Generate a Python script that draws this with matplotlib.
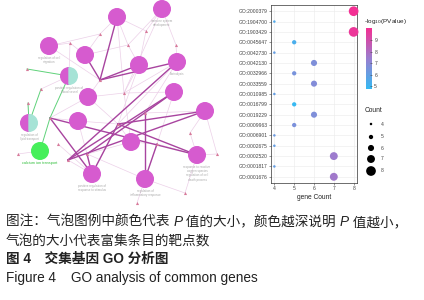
import numpy as np
import matplotlib
matplotlib.use("Agg")
import matplotlib.pyplot as plt
from matplotlib.patches import Circle, Wedge
from matplotlib.colors import LinearSegmentedColormap, Normalize

plt.rcParams['font.family'] = ['Liberation Sans', 'Noto Sans CJK SC', 'DejaVu Sans']

# ---- bubble chart data (listed bottom -> top) ----
go_terms = ['GO:0001676', 'GO:0001817', 'GO:0002520', 'GO:0002675', 'GO:0006901',
            'GO:0009963', 'GO:0019229', 'GO:0016799', 'GO:0010985', 'GO:0033559',
            'GO:0032966', 'GO:0042130', 'GO:0042730', 'GO:0045647', 'GO:1903429',
            'GO:1904700', 'GO:2000379']
gene_count = [7, 4, 7, 4, 4, 5, 6, 5, 4, 6, 5, 6, 4, 5, 8, 4, 8]
neg_log_p = [7.6, 6.0, 7.5, 6.0, 6.2, 6.6, 6.7, 4.8, 6.0, 6.8, 6.5, 6.7, 6.0, 5.3, 9.8, 5.5, 10.0]
count_ticks = [4, 5, 6, 7, 8]
p_ticks = [5, 6, 7, 8, 9]

# ---- network data (layout positions, pixel-like units) ----
term_x = [117, 162, 49, 85, 139, 177, 69, 88, 174, 205, 29, 78, 131, 40, 197, 92, 145]
term_y = [17, 9, 46, 55, 65, 62, 76, 97, 92, 111, 123, 121, 142, 151, 155, 174, 179]
term_kind = ['t', 't', 't', 't', 't', 't', 'h', 't', 't', 't', 'h', 't', 't', 'g', 't', 't', 't']
gene_x = [100, 146, 70, 128, 176, 27, 100, 41, 124, 28, 50, 145, 118, 190, 58, 157, 18, 87, 68, 217, 185, 137]
gene_y = [34, 31, 43, 45, 45, 69, 80, 89, 93, 103, 118, 113, 124, 133, 144, 144, 154, 154, 160, 154, 193, 203]
# edges: (term index, gene index)
thin_edges = [(0, 0), (0, 1), (0, 3), (1, 1), (1, 4), (1, 3), (2, 0), (2, 2), (3, 0), (3, 2),
              (3, 3), (4, 3), (4, 1), (4, 8), (5, 4), (5, 8), (5, 11), (7, 6), (7, 8), (7, 10),
              (8, 11), (8, 8), (9, 11), (9, 13), (9, 19), (11, 10), (11, 12), (11, 17), (12, 12),
              (12, 15), (12, 17), (14, 19), (14, 13), (14, 15), (15, 17), (15, 14), (15, 18),
              (16, 21), (16, 15), (16, 17), (15, 12), (4, 12), (8, 15), (2, 6), (6, 7), (16, 20),
              (1, 8), (0, 8), (13, 16), (10, 9), (6, 2), (12, 8), (7, 12), (5, 12), (14, 20)]
thick_edges = [(0, 6), (3, 6), (5, 6), (4, 6), (15, 10), (15, 12), (15, 17), (8, 17), (9, 12),
               (14, 12), (16, 11), (16, 15), (9, 18), (8, 18), (5, 18), (14, 10)]
green_edges = [(6, 5), (13, 10), (10, 9), (6, 10), (10, 7)]
term_labels = {2: 'regulation of cell\nmigration', 6: 'positive regulation of\nblood vessel', 10: 'regulation of\nlipid transport',
               14: 'response to reactive\noxygen species\nregulation of cell\ndeath process', 15: 'positive regulation of\nresponse to stimulus',
               16: 'regulation of\ninflammatory response', 5: 'fibrinolysis', 1: 'immune system\ndevelopment'}

fig = plt.figure(figsize=(4.24, 3.0), dpi=100)

# ================= network =================
nx_ax = fig.add_axes([0, 1 - 212 / 300, 222 / 424, 212 / 300])
nx_ax.set_xlim(0, 222)
nx_ax.set_ylim(212, 0)
nx_ax.set_aspect('equal')
nx_ax.axis('off')

for ti, gi in thin_edges:
    nx_ax.plot([term_x[ti], gene_x[gi]], [term_y[ti], gene_y[gi]], color='#ecd0e8', lw=0.5, zorder=1)
for ti, gi in thick_edges:
    nx_ax.plot([term_x[ti], gene_x[gi]], [term_y[ti], gene_y[gi]], color='#a8449f', lw=1.0, zorder=2)
for ti, gi in green_edges:
    nx_ax.plot([term_x[ti], gene_x[gi]], [term_y[ti], gene_y[gi]], color='#5fd27a', lw=0.7, zorder=2)

nx_ax.scatter(gene_x, gene_y, marker='^', s=5, color='#d77a9a', zorder=3, linewidths=0)

r = 8.3
for i, (x, y, k) in enumerate(zip(term_x, term_y, term_kind)):
    if k == 't':
        nx_ax.add_patch(Circle((x, y), r, color='#d65bcf', zorder=4))
    elif k == 'h':
        nx_ax.add_patch(Wedge((x, y), r, 90, 270, color='#d65bcf', zorder=4))
        nx_ax.add_patch(Wedge((x, y), r, 270, 90, color='#a6e3d6', zorder=4))
    else:
        nx_ax.add_patch(Circle((x, y), r, color='#46ef5a', zorder=4))
    if i in term_labels:
        nx_ax.text(x, y + r + 1.5, term_labels[i], fontsize=2.2, color='#aaaaaa',
                   ha='center', va='top', linespacing=1.1, zorder=5)
nx_ax.text(term_x[13], term_y[13] + r + 2, 'calcium ion transport', fontsize=2.8,
           color='#2fbf3a', ha='center', va='top', zorder=5)

# ================= bubble chart =================
cmap = LinearSegmentedColormap.from_list('bp', ['#35baf3', '#9a7fd0', '#f42f93'])
norm = Normalize(vmin=4.75, vmax=10.05)

def dot_size(c):
    d_px = 2.5 + (np.asarray(c) - 4) * 1.8
    return (d_px * 0.72) ** 2

ax = fig.add_axes([271 / 424, 1 - 183 / 300, 86 / 424, 178 / 300])
ypos = np.arange(len(go_terms))
ax.scatter(gene_count, ypos, s=dot_size(gene_count), c=neg_log_p, cmap=cmap, norm=norm,
           linewidths=0, zorder=3, clip_on=False)
ax.set_xlim(3.83, 8.17)
ax.set_ylim(-0.6, len(go_terms) - 0.4)
ax.set_yticks(ypos)
ax.set_yticklabels(go_terms)
ax.set_xticks(count_ticks)
ax.tick_params(labelsize=3.6, colors='#444444', length=1.2, width=0.4, pad=1)
ax.grid(True, color='#ebebeb', lw=0.4)
ax.set_axisbelow(True)
for s in ax.spines.values():
    s.set_color('#333333')
    s.set_linewidth(0.5)
ax.set_xlabel('gene Count', fontsize=4.8, labelpad=2, color='#222222')

# colorbar
cax = fig.add_axes([366 / 424, 1 - 89 / 300, 5.5 / 424, 61 / 300])
grad = np.linspace(norm.vmin, norm.vmax, 256).reshape(-1, 1)
cax.imshow(grad, aspect='auto', cmap=cmap, norm=norm, origin='lower',
           extent=[0, 1, norm.vmin, norm.vmax])
cax.set_xticks([])
cax.yaxis.tick_right()
cax.set_yticks(p_ticks)
cax.tick_params(labelsize=3.6, colors='#444444', length=1.2, width=0.4, pad=2, direction='in')
for s in cax.spines.values():
    s.set_visible(False)
fig.text(364 / 424, 1 - 22 / 300, r'-log$_{10}$(PValue)', fontsize=4.6, color='#222222', va='center')

# size legend
fig.text(365 / 424, 1 - 111 / 300, 'Count', fontsize=4.8, color='#222222', va='center')
leg_y = [124, 137, 148, 159, 171]
for c, yy in zip(count_ticks, leg_y):
    fig.text(381 / 424, 1 - yy / 300, str(c), fontsize=3.6, color='#444444', va='center')
lax = fig.add_axes([0, 0, 1, 1], facecolor='none')
lax.set_xlim(0, 424)
lax.set_ylim(300, 0)
lax.axis('off')
lax.scatter([371] * len(count_ticks), leg_y, s=dot_size(count_ticks), color='black', linewidths=0)

# ================= caption =================
def chain(parts, x, y, size=9.8, color='#222222'):
    prev = None
    for txt, style, weight in parts:
        kw = dict(fontsize=size, color=color, style=style, weight=weight, va='bottom', ha='left')
        if prev is None:
            prev = lax.annotate(txt, xy=(x, y), xycoords='data', **kw)
        else:
            prev = lax.annotate(txt, xy=(1, 0), xycoords=prev, **kw)

chain([('图注：气泡图例中颜色代表 ', 'normal', 'normal'), ('P', 'italic', 'normal'),
       (' 值的大小，颜色越深说明 ', 'normal', 'normal'), ('P', 'italic', 'normal'),
       (' 值越小，', 'normal', 'normal')], 6, 229)
chain([('气泡的大小代表富集条目的靶点数', 'normal', 'normal')], 6, 248)
chain([('图 4　交集基因 GO 分析图', 'normal', 'bold')], 6, 266)
chain([('Figure 4    GO analysis of common genes', 'normal', 'normal')], 6, 285)

fig.savefig('out.png', dpi=100, facecolor='white')
